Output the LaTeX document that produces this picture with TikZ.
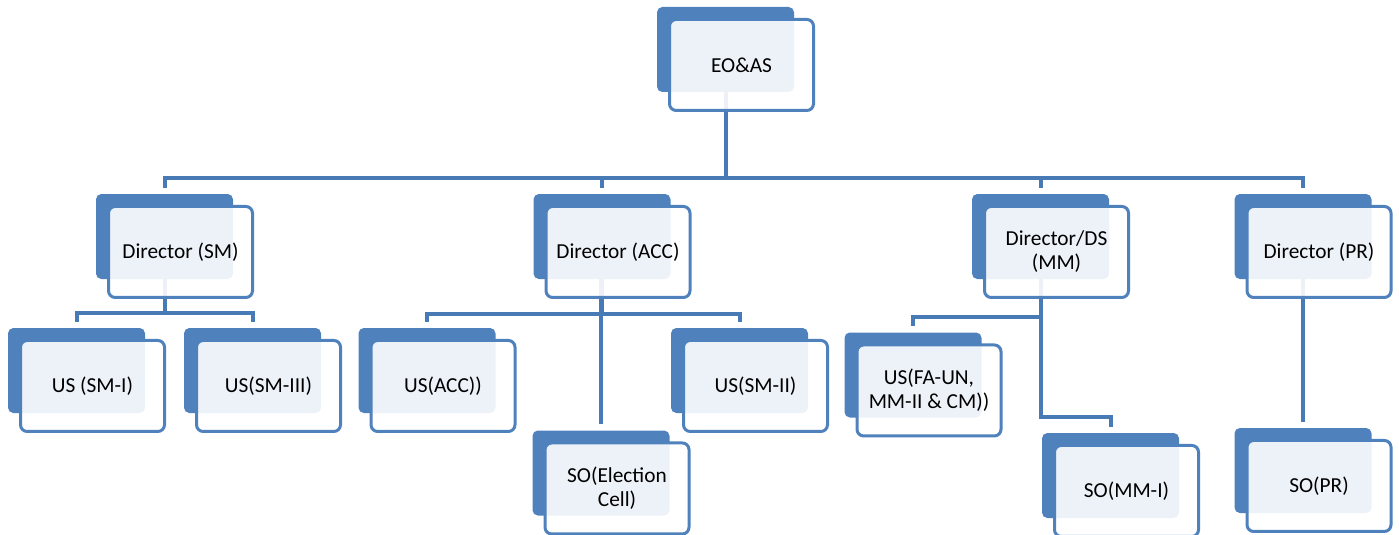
\documentclass[tikz,border=0pt]{standalone}
\usepackage{fontspec}
\setmainfont{Carlito}
\definecolor{boxblue}{RGB}{79,129,189}
\definecolor{lineblue}{RGB}{72,122,182}
\pgfdeclarelayer{bg}
\pgfsetlayers{bg,main}
\tikzset{
  backbox/.style={fill=boxblue, draw=none, rounded corners=4pt, inner sep=0pt,
    minimum width=102.75pt, minimum height=63.75pt},
  frontbox/.style={draw=boxblue, line width=2.25pt, fill=white, fill opacity=0.9, text opacity=1,
    rounded corners=5pt, inner sep=0pt, minimum width=108pt, minimum height=68.25pt,
    align=center, font=\fontsize{16}{18}\selectfont},
  conn/.style={draw=lineblue, line width=3pt, shorten >=4.5pt},
}
\newcommand\orgnode[4]{%
  \node[backbox] (#1) at (#2,#3) {};
  \node[frontbox] (#1f) at ([xshift=12pt,yshift=-11.6pt]#1.center) {#4};
}
\begin{document}
\begin{tikzpicture}[x=0.75pt,y=-0.75pt]
\useasboundingbox (0,0) rectangle (1399,535);
% level 1
\orgnode{eo}{725.5}{49.5}{EO\&AS}
% level 2
\orgnode{dsm}{164.5}{236.5}{Director (SM)}
\orgnode{dacc}{602}{236.5}{Director (ACC)}
\orgnode{dmm}{1040.5}{236.5}{Director/DS\\(MM)}
\orgnode{dpr}{1303}{236.5}{Director (PR)}
% level 3
\orgnode{ussmi}{76.5}{370.5}{US (SM-I)}
\orgnode{ussmiii}{252.5}{370.5}{US(SM-III)}
\orgnode{usacc}{427}{370.5}{US(ACC))}
\orgnode{ussmii}{739.5}{370.5}{US(SM-II)}
\orgnode{soel}{601}{473}{SO(Election\\Cell)}
\orgnode{usfa}{913}{375}{US(FA-UN,\\MM-II \& CM))}
\orgnode{somm}{1110.5}{475.5}{SO(MM-I)}
\orgnode{sopr}{1303}{470.5}{SO(PR)}
\begin{pgfonlayer}{bg}
  \foreach \c in {dsm,dacc,dmm,dpr}
    \draw[conn] (eo.south) -- (eo.south |- 0,178) -| (\c.north);
  \foreach \c in {ussmi,ussmiii}
    \draw[conn] (dsm.south) -- (dsm.south |- 0,313) -| (\c.north);
  \foreach \c in {usacc,ussmii}
    \draw[conn] (dacc.south) -- (dacc.south |- 0,314) -| (\c.north);
  \draw[conn] (soel.north |- dacc.south) -- (soel.north);
  \draw[conn] (dmm.south) -- (dmm.south |- 0,317) -| (usfa.north);
  \draw[conn] (dmm.south) -- (dmm.south |- 0,417) -| (somm.north);
  \draw[conn] (dpr.south) -- (sopr.north);
\end{pgfonlayer}
\end{tikzpicture}
\end{document}
